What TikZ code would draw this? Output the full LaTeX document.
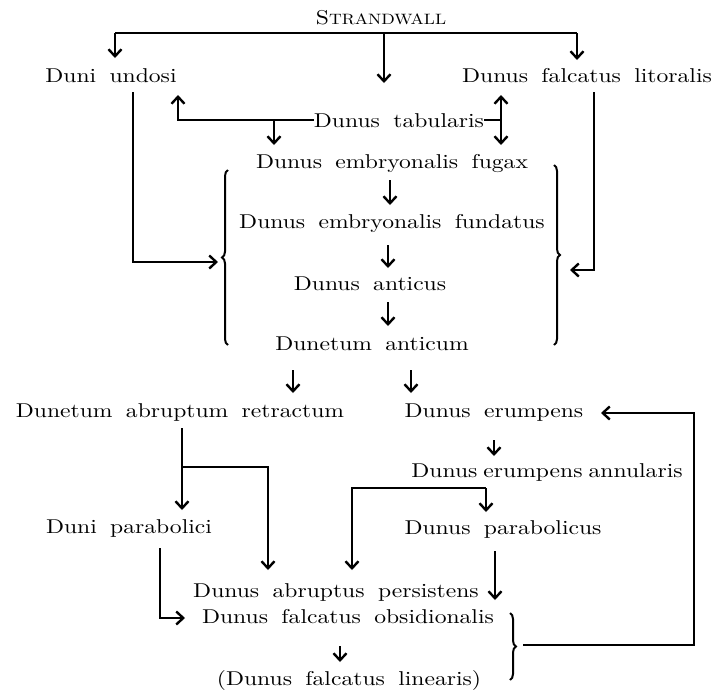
\documentclass[tikz,border=0pt]{standalone}
\usepackage{fontspec}
\setmainfont{lmroman10-regular}[Extension=.otf, FakeStretch=1.18, WordSpace=1.7]
\usetikzlibrary{arrows.meta,decorations.pathreplacing}
\begin{document}
\begin{tikzpicture}[x=1pt,y=-1pt,
  lbl/.style={inner sep=0pt, anchor=base, font=\fontsize{20}{24}\selectfont},
  ln/.style={line width=2.8pt, line join=miter},
  arr/.style={line width=2.4pt, line join=miter, -{Straight Barb[length=7pt,width=13pt,line width=2.4pt]}},
  dbl/.style={line width=2.4pt, {Straight Barb[length=7pt,width=13pt,line width=2.4pt]}-{Straight Barb[length=7pt,width=13pt,line width=2.4pt]}},
  brc/.style={decorate, decoration={brace, amplitude=6pt}, line width=2pt}]
\useasboundingbox (0,0) rectangle (716,691);
% labels
\node[lbl] (sw) at (381,24) {{\fontsize{20}{22}\selectfont S}{\fontsize{15}{16}\selectfont TRANDWALL}};
\node[lbl] (du) at (111,82) {Duni undosi};
\node[lbl] (dfl) at (587,82) {Dunus falcatus litoralis};
\node[lbl] (dt) at (399,127) {Dunus tabularis};
\node[lbl] (def) at (392,168) {Dunus embryonalis fugax};
\node[lbl] (defu) at (392,228) {Dunus embryonalis fundatus};
\node[lbl] (da) at (370,290) {Dunus anticus};
\node[lbl] (dta) at (372,350) {Dunetum anticum};
\node[lbl] (dar) at (180,417) {Dunetum abruptum retractum};
\node[lbl] (de) at (494,417) {Dunus erumpens};
\node[lbl] (dea) at (547,477) {{\spaceskip=0.3em Dunus erumpens annularis}};
\node[lbl] (dp) at (129,533) {Duni parabolici};
\node[lbl] (dpa) at (503,534) {Dunus parabolicus};
\node[lbl] (dap) at (336,597) {Dunus abruptus persistens};
\node[lbl] (dfo) at (348,623) {Dunus falcatus obsidionalis};
\node[lbl] (dfli) at (349,685) {(Dunus falcatus linearis)};
% coordinates
\coordinate (swL) at (115,33);
\coordinate (swM) at (384,33);
\coordinate (swR) at (577,33);
\coordinate (duT) at (115,58);
\coordinate (midT) at (384,83);
\coordinate (dflT) at (577,60);
\coordinate (duB) at (133,92);
\coordinate (duC) at (133,262);
\coordinate (lbTip) at (218,262);
\coordinate (dflB) at (594,92);
\coordinate (dflC) at (594,270);
\coordinate (rbTip) at (570,270);
\coordinate (tabC) at (178,120);
\coordinate (duUp) at (178,95);
\coordinate (tabD) at (274,120);
\coordinate (tabDe) at (274,145);
\coordinate (dblM) at (501,120);
\coordinate (dblT) at (501,95);
\coordinate (dblB) at (501,145);
% Strandwall
\draw[ln] (swL) -- (swR);
\draw[arr] (swL) -- (duT);
\draw[arr] (swM) -- (midT);
\draw[arr] (swR) -- (dflT);
% tabularis
\draw[arr] (dt.west |- tabC) -- (tabC) -- (duUp);
\draw[arr] (tabD) -- (tabDe);
\draw[ln] (dt.east |- dblM) -- (dblM);
\draw[dbl] (dblT) -- (dblB);
% side feeds
\draw[arr] (duB) -- (duC) -- (lbTip);
\draw[arr] (dflB) -- (dflC) -- (rbTip);
% braces
\draw[brc] (228,345) -- (228,170);
\draw[brc] (554,165) -- (554,345);
% main chain
\draw[arr] (390,180) -- (390,205);
\draw[arr] (388,245) -- (388,268);
\draw[arr] (388,302) -- (388,326);
\draw[arr] (293,370) -- (293,393);
\draw[arr] (411,370) -- (411,393);
% lower left
\coordinate (darB) at (182,428);
\coordinate (darJ) at (182,467);
\coordinate (darC) at (268,467);
\draw[arr] (darB) -- (182,510);
\draw[arr] (darJ) -- (darC) -- (268,570);
\draw[arr] (160,548) -- (160,618) -- (185,618);
% lower right
\draw[arr] (494,440) -- (494,456);
\coordinate (deaR) at (486,488);
\coordinate (deaL) at (352,488);
\draw[arr] (deaR) -- (deaL) -- (352,570);
\draw[arr] (deaR) -- (486,512);
\draw[arr] (495,551) -- (495,600);
\draw[arr] (340,646) -- (340,662);
% bottom brace and feedback
\draw[brc] (510,613) -- (510,680);
\coordinate (fbA) at (523,645);
\coordinate (fbB) at (694,645);
\coordinate (fbC) at (694,413);
\coordinate (fbD) at (601,413);
\draw[arr] (fbA) -- (fbB) -- (fbC) -- (fbD);
\end{tikzpicture}
\end{document}
